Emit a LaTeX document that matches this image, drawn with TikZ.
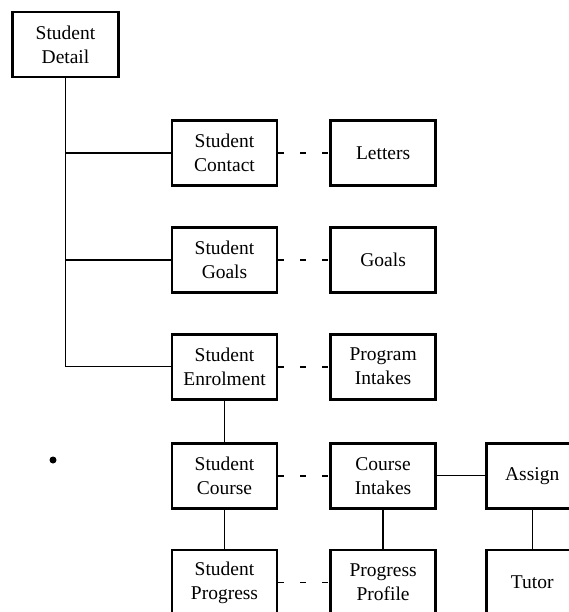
\documentclass[tikz,border=0pt]{standalone}
\usepackage{fontspec}
\setmainfont{Liberation Serif}
\usetikzlibrary{positioning}

\begin{document}
\begin{tikzpicture}[x=1pt, y=1pt,
  ent/.style={draw, line width=2.6pt, minimum width=105pt, minimum height=65pt, align=center, inner sep=2pt, font=\fontsize{19.5}{24}\selectfont},
  link/.style={line width=1.3pt},
  opt/.style={line width=1.8pt, dash pattern=on 6pt off 16pt}
]
\useasboundingbox (0,0) rectangle (568,-612);

\node[ent, minimum width=106pt] (detail) at (65.5,-44.5) {Student\\Detail};
\node[ent] (contact) at (224.5,-153) {Student\\Contact};
\node[ent, right=51pt of contact] (letters) {Letters};
\node[ent, below=39.5pt of contact] (goals) {Student\\Goals};
\node[ent, right=51pt of goals] (goalsx) {Goals};
\node[ent, below=39pt of goals] (enrol) {Student\\Enrolment};
\node[ent, right=51pt of enrol] (prog) {Program\\Intakes};
\node[ent, below=41.5pt of enrol] (course) {Student\\Course};
\node[ent, right=51pt of course] (intake) {Course\\Intakes};
\node[ent, minimum width=92pt, right=48pt of intake] (assign) {Assign};
\node[ent, below=39pt of course] (sprog) {Student\\Progress};
\node[ent, right=51pt of sprog] (profile) {Progress\\Profile};
\node[ent, minimum width=92pt, right=48pt of profile] (tutor) {Tutor};

% stray mark on the page
\fill (53,-460) circle (3.5pt);

\foreach \i in {contact,goals,enrol}
  \draw[link] (detail) |- (\i);
\foreach \i/\j in {enrol/course,course/sprog,intake/profile,intake/assign,assign/tutor}
  \draw[link] (\i) -- (\j);
\foreach \i/\j in {contact/letters,goals/goalsx,enrol/prog,course/intake,sprog/profile}
  \draw[opt] (\i) -- (\j);
\end{tikzpicture}
\end{document}
